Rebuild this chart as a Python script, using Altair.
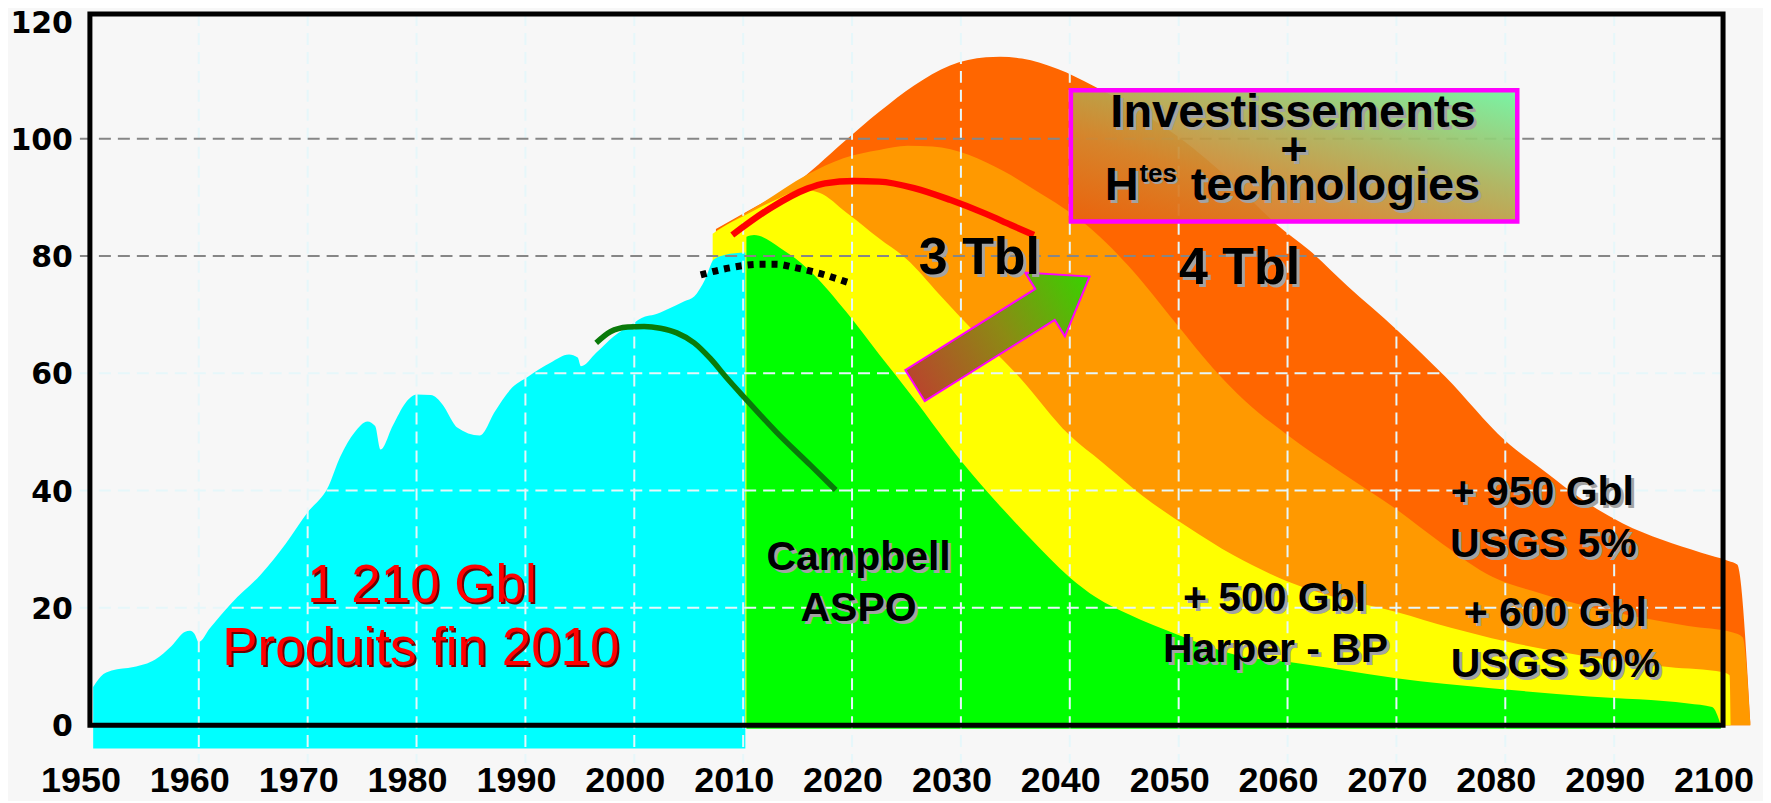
import altair as alt
import pandas as pd

# ---------------- axis ticks ----------------
x_ticks = [1950, 1960, 1970, 1980, 1990, 2000, 2010, 2020, 2030, 2040, 2050, 2060, 2070, 2080, 2090, 2100]
x_grid = [1960, 1970, 1980, 1990, 2000, 2010, 2020, 2030, 2040, 2050, 2060, 2070, 2080, 2090]
y_ticks = [0, 20, 40, 60, 80, 100, 120]
y_grid = [20, 40, 60, 80, 100]

# ---------------- historical production (cyan) ----------------
hist_years = [1950.3, 1951, 1952, 1954, 1956, 1957.5, 1958.7, 1959.2, 1959.6, 1960, 1961, 1963,
              1965.7, 1968, 1970, 1971.9, 1973, 1974.3, 1975.5, 1976.2, 1976.7, 1977.8, 1979,
              1980, 1981.3, 1982.5, 1983.3, 1983.7, 1985.8, 1987.2, 1988.6, 1990.3, 1992.3,
              1994, 1994.8, 1995.1, 1996.5, 1998.1, 1999.7, 2001, 2001.8, 2003, 2004.6, 2005.5,
              2006.5, 2007.3, 2008.3, 2010.2]
hist_prod = [6.5, 8.3, 9.3, 9.9, 11.2, 13.5, 15.9, 16.1, 15.6, 14.2, 16.5, 20.8,
             25.7, 31.0, 36.3, 40.7, 45.8, 49.9, 51.8, 51.0, 47.0, 51.0, 55.0,
             56.4, 56.3, 54.4, 51.8, 50.8, 49.4, 53.5, 57.2, 59.5, 61.8,
             63.2, 62.7, 61.2, 63.5, 66.3, 68.3, 69.7, 70.0, 70.9, 72.3, 73.1,
             76.0, 79.4, 80.2, 80.6]
hist_floor = -4.0

# ---------------- Campbell ASPO (green) ----------------
aspo_years = [2010.3, 2011, 2013.4, 2016.4, 2019.5, 2022.5, 2025.6, 2030, 2033.2, 2036.3, 2040,
              2042.4, 2045.4, 2049.8, 2053.1, 2056.1, 2060, 2065, 2070, 2078.7, 2087.7, 2096.8,
              2099, 2099.8]
aspo_top = [83.3, 83.6, 81.4, 77.0, 70.4, 63.2, 55.9, 45.1, 38.2, 32.0, 25.2,
            21.8, 18.9, 15.5, 13.2, 11.6, 10.8, 9.4, 8.0, 6.3, 4.9, 3.7,
            3.1, 0.0]
aspo_floor = -0.6

# ---------------- + 500 Gbl Harper - BP (yellow) ----------------
bp_years = [2007.2, 2008, 2010, 2013, 2015.5, 2017, 2019.5, 2022.5, 2025, 2028, 2030, 2035.4,
            2039.9, 2043, 2046.7, 2050.9, 2055, 2059.9, 2065, 2070, 2075, 2080, 2085,
            2090, 2095, 2100, 2100.6, 2100.7]
bp_top = [83.8, 84.8, 86.8, 89.6, 91.3, 90.8, 87.4, 83.0, 79.5, 73.5, 69.5, 59.3,
          49.6, 44.8, 39.1, 33.7, 29.0, 24.6, 21.5, 19.3, 16.6, 14.3, 12.5,
          11.0, 9.9, 9.0, 8.5, 0.0]

# ---------------- + 600 Gbl USGS 50% (orange) ----------------
usgs50_years = [2007.5, 2011.6, 2015.9, 2019.2, 2022.5, 2025.1, 2027.4, 2030.7, 2033.9, 2037.2,
                2040.2, 2042.1, 2045.4, 2049.8, 2053.1, 2056.1, 2059.9, 2065, 2070, 2074.3,
                2078.8, 2083.2, 2087.7, 2092.3, 2096.8, 2100.9, 2101.8, 2102.5]
usgs50_top = [84.3, 88.9, 93.9, 96.7, 98.1, 98.8, 98.7, 97.3, 94.5, 90.8,
              87.2, 84.4, 78.3, 68.4, 61.0, 55.3, 49.6, 43.0, 36.8, 30.8,
              25.3, 22.5, 20.2, 18.4, 16.9, 15.8, 15.0, 0.5]

# ---------------- + 950 Gbl USGS 5% (dark orange) ----------------
usgs5_years = [2007.5, 2011, 2014.3, 2016.9, 2019.2, 2022.5, 2025.7, 2029, 2032.3, 2033.6, 2035.6,
               2038.9, 2042.1, 2045, 2050, 2055, 2059, 2062, 2065.5, 2070, 2074.5, 2080, 2083.6,
               2087.2, 2090.8, 2094.4, 2098, 2100.5, 2101.3, 2102.5]
usgs5_top = [84.6, 88.3, 91.7, 95.6, 99.4, 104.6, 109.1, 112.5, 113.9, 114.0, 113.7,
             111.9, 109.1, 106.2, 100.3, 92.5, 85.4, 81.0, 74.9, 67.5, 59.4, 48.5, 43.3,
             38.3, 34.4, 31.6, 29.4, 28.0, 27.4, 0.5]

# ---------------- curves ----------------
red_years = [2009, 2012.6, 2015.9, 2017.5, 2020.2, 2022.5, 2025.7, 2029, 2032.3, 2034.6, 2036.7]
red_vals = [83.6, 88.3, 91.5, 92.4, 92.8, 92.7, 91.6, 89.6, 87.2, 85.3, 83.6]

dot_years = [2006.1, 2008.5, 2011.6, 2013.1, 2014.6, 2017.1, 2019.8]
dot_vals = [76.8, 77.9, 78.6, 78.6, 78.1, 77.0, 75.4]

old_years = [1996.5, 1997.8, 1999.4, 2000.9, 2002.4, 2003.9, 2005.5, 2007, 2008.5, 2010.1,
             2013.1, 2016.2, 2018.5]
old_vals = [65.2, 67.1, 67.9, 68.0, 67.7, 66.9, 65.2, 62.5, 59.2, 55.9, 49.9, 44.3, 40.1]

# ---------------- annotations ----------------
big_text = ["3 Tbl", "4 Tbl"]
big_x = [2031.7, 2055.6]
big_y = [77.0, 75.2]

src_text = ["+ 950 Gbl", "USGS 5%", "+ 600 Gbl", "USGS 50%", "+ 500 Gbl", "Harper - BP", "Campbell", "ASPO"]
src_x = [2083.4, 2083.5, 2084.6, 2084.6, 2058.8, 2058.9, 2020.6, 2020.6]
src_y = [37.5, 28.7, 16.9, 8.2, 19.5, 10.8, 26.4, 17.8]

red_text = ["1 210 Gbl", "Produits fin 2010"]
red_x = [1980.5, 1980.4]
red_y = [21.0, 10.2]

box_x = [2040.1]
box_x2 = [2081.1]
box_y = [108.3]
box_y2 = [85.9]

box_center_text = ["Investissements", "+"]
box_center_x = [2060.5, 2060.6]
box_center_y = [102.1, 95.6]
box_left_text = ["H", "technologies"]
box_left_x = [2043.2, 2051.1]
box_left_y = [89.6, 89.6]
sup_text = ["tes"]
sup_x = [2046.4]
sup_y = [92.7]

arrow_x = [2033.8]
arrow_y = [67.2]

# ---------------- chart ----------------
W, H = 1635, 712
XS = alt.Scale(domain=[1950, 2100], nice=False, zero=False)
YS = alt.Scale(domain=[0, 121.3], nice=False, zero=False)
FONT = "Liberation Sans"


def X(field="x"):
    return alt.X(f"{field}:Q", scale=XS, axis=None)


def Y(field="y"):
    return alt.Y(f"{field}:Q", scale=YS, axis=None)


def area(xs, ys, floor, color):
    df = pd.DataFrame({"x": xs, "y": ys, "y0": [floor] * len(xs)})
    return alt.Chart(df).mark_area(color=color, interpolate="monotone", opacity=1).encode(
        x=X(), y=Y(), y2="y0:Q")


def line(xs, ys, color, width, dash=None):
    df = pd.DataFrame({"x": xs, "y": ys})
    kw = dict(color=color, strokeWidth=width, interpolate="monotone", strokeCap="butt")
    if dash:
        kw["strokeDash"] = dash
    return alt.Chart(df).mark_line(**kw).encode(x=X(), y=Y())


def texts(labels, xs, ys, size, color, weight="bold", align="center", dx=0, dy=0):
    df = pd.DataFrame({"x": xs, "y": ys, "t": labels})
    return alt.Chart(df).mark_text(font=FONT, fontSize=size, fontWeight=weight, color=color,
                                   align=align, baseline="alphabetic", dx=dx, dy=dy).encode(
        x=X(), y=Y(), text="t:N")


def shadowed(labels, xs, ys, size, align="center", color="black", shadow="#A3A3A3", off=3, weight="bold"):
    return [texts(labels, xs, ys, size, shadow, weight, align, off, off),
            texts(labels, xs, ys, size, color, weight, align)]


layers = []
layers.append(area(usgs5_years, usgs5_top, 0, "#FF6600"))
layers.append(area(usgs50_years, usgs50_top, 0, "#FF9900"))
layers.append(area(bp_years, bp_top, 0, "#FFFF00"))
layers.append(area(aspo_years, aspo_top, aspo_floor, "#00FF00"))
layers.append(area(hist_years, hist_prod, hist_floor, "#00FFFF"))

# grid lines (drawn over the areas)
vgrid = alt.Chart(pd.DataFrame({"x": x_grid})).mark_rule(
    strokeWidth=2, strokeDash=[12, 7], color="#E6F7FA").encode(
    x=X(), y=alt.value(0), y2=alt.value(H + 38))
hgrid = alt.Chart(pd.DataFrame({"y": y_grid})).mark_rule(
    strokeWidth=2, strokeDash=[12, 7]).encode(
    y=Y(), x=alt.value(-10), x2=alt.value(W),
    color=alt.condition("datum.y >= 80", alt.value("#868686"), alt.value("#E6F7FA")))
layers += [vgrid, hgrid]

# axis tick labels
xlab = alt.Chart(pd.DataFrame({"x": x_ticks, "t": [str(v) for v in x_ticks]})).mark_text(
    font=FONT, fontSize=36, fontWeight="bold", color="black", align="center",
    baseline="alphabetic", dx=-9).encode(
    x=X(), y=alt.value(H + 67), text="t:N")
ylab = alt.Chart(pd.DataFrame({"y": y_ticks, "t": [str(v) for v in y_ticks]})).mark_text(
    font="DejaVu Sans", fontSize=30, fontWeight="bold", color="black", align="right",
    baseline="alphabetic", dy=11).encode(
    y=Y(), x=alt.value(-17), text="t:N")
layers += [xlab, ylab]

layers.append(line(old_years, old_vals, "#0A7A0A", 5.5))
layers.append(line(dot_years, dot_vals, "black", 7, [6, 6]))
layers.append(line(red_years, red_vals, "#FF0000", 6.5))

# block arrow
arrow_grad = alt.LinearGradient(gradient="linear", x1=0, y1=0, x2=1, y2=0, stops=[
    alt.GradientStop(color="#B8462C", offset=0),
    alt.GradientStop(color="#8C8A14", offset=0.5),
    alt.GradientStop(color="#38D200", offset=1)])
arrow_path = "M-1,-0.178L0.49,-0.178L0.49,-0.365L1,0L0.49,0.365L0.49,0.178L-1,0.178Z"
arrow = alt.Chart(pd.DataFrame({"x": arrow_x, "y": arrow_y})).mark_point(
    shape=arrow_path, size=206 * 206, angle=328, filled=True, fill=arrow_grad, fillOpacity=1,
    stroke="#FF00FF", strokeWidth=2, opacity=1).encode(x=X(), y=Y())
layers.append(arrow)

# box
box_grad = alt.LinearGradient(gradient="linear", x1=0, y1=1, x2=1, y2=0, stops=[
    alt.GradientStop(color="#EA620C", offset=0),
    alt.GradientStop(color="#D3862E", offset=0.33),
    alt.GradientStop(color="#ACB25A", offset=0.62),
    alt.GradientStop(color="#6EF5A0", offset=1)])
box = alt.Chart(pd.DataFrame({"x": box_x, "x2": box_x2, "y": box_y, "y2": box_y2})).mark_rect(
    fill=box_grad, fillOpacity=0.93, stroke="#FF00FF", strokeWidth=4.5).encode(
    x=X(), x2="x2:Q", y=Y(), y2="y2:Q")
layers.append(box)

layers += shadowed(box_center_text, box_center_x, box_center_y, 47)
layers += shadowed(box_left_text, box_left_x, box_left_y, 47, align="left")
layers += shadowed(sup_text, sup_x, sup_y, 26, align="left", off=2)
layers += shadowed(big_text, big_x, big_y, 52)
layers += shadowed(src_text, src_x, src_y, 41)
layers += shadowed(red_text, red_x, red_y, 53, color="#FF0000", shadow="#6E0000", off=2, weight="normal")

# plot frame
frame = alt.Chart(pd.DataFrame({"a": [0]})).mark_rect(
    fillOpacity=0, stroke="black", strokeWidth=5).encode(
    x=alt.value(0), x2=alt.value(W), y=alt.value(0), y2=alt.value(H))
layers.append(frame)

chart = alt.layer(*layers).properties(
    width=W, height=H,
    padding={"left": 82, "top": 5.5, "right": 40, "bottom": 75},
    autosize=alt.AutoSizeParams(type="none"),
    background="#F7F7F7",
).configure_view(strokeWidth=0)

chart.save("out.html", embed_options={"renderer": "svg", "actions": False})
